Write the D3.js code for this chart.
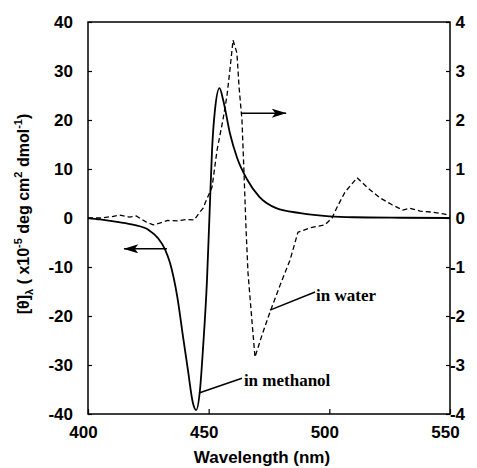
<!DOCTYPE html>
<html>
<head>
<meta charset="utf-8">
<script src="https://cdn.jsdelivr.net/npm/d3@7"></script>
<style>
  html, body { margin: 0; padding: 0; background: #fff; }
  svg { display: block; }
  .tick text { font-family: "Liberation Sans", Arial, sans-serif; font-weight: bold; font-size: 17px; fill: #000; }
  .note { font-family: "Liberation Serif", "Times New Roman", serif; font-weight: bold; font-size: 17px; fill: #000; }
</style>
</head>
<body>
<div id="chart"></div>
<script>
// methanol curve (left axis, x10^-5 deg cm2 dmol-1)
const methanolWl = [400, 405, 412, 419, 425, 429, 432, 434, 437, 439.4, 441.4, 443.5, 444.8, 446.4, 447.7, 449.3, 450.3, 451.4, 452.6, 454.5, 456, 458.8, 461.7, 466, 471, 478, 488, 500, 510, 530, 550];
const methanolVal = [0, -0.3, -0.8, -1.4, -2.4, -4.1, -6.5, -9.2, -16.1, -24.3, -31, -37.8, -39.2, -35.1, -26.3, -12.7, 0, 13.9, 22, 26.5, 24.1, 17.3, 12.4, 7.8, 4.3, 2.0, 1.0, 0.35, 0.15, 0.05, 0];

// water curve (right axis)
const waterWl = [400, 405, 410, 413, 417, 420, 424, 427, 430, 433, 437, 441, 444, 446, 447.7, 448.5, 451.4, 453.5, 455.9, 457.6, 458.8, 460.1, 461.7, 462.6, 463.8, 464.6, 465.5, 466.3, 468, 469.2, 472.1, 475.4, 479.6, 483.7, 487, 492, 498.2, 501.1, 503.2, 506.5, 511.5, 516, 521, 526, 530.5, 533.4, 537.6, 542.6, 547.9, 550];
const waterVal = [0, 0, 0.03, 0.06, 0.02, 0.04, -0.08, -0.14, -0.1, -0.05, -0.06, -0.03, -0.04, 0.1, 0.2, 0.3, 0.63, 1.39, 2.0, 2.5, 3.02, 3.63, 3.37, 2.67, 2.0, 0.98, -0.24, -1.12, -2.14, -2.84, -2.39, -1.92, -1.37, -0.86, -0.29, -0.2, -0.14, 0, 0.22, 0.53, 0.82, 0.61, 0.41, 0.27, 0.16, 0.2, 0.14, 0.12, 0.08, 0.04];

const xTicks = [400, 450, 500, 550];
const leftTicks = [-40, -30, -20, -10, 0, 10, 20, 30, 40];
const rightTicks = [-4, -3, -2, -1, 0, 1, 2, 3, 4];

const width = 477;
const height = 468;
const margin = { top: 22, right: 27, bottom: 54, left: 88 };
const innerW = width - margin.left - margin.right;
const innerH = height - margin.top - margin.bottom;

const svg = d3.select('#chart')
  .append('svg')
  .attr('width', width)
  .attr('height', height);

const g = svg.append('g').attr('transform', `translate(${margin.left},${margin.top})`);

const x = d3.scaleLinear().domain([400, 550]).range([0, innerW]);
const yL = d3.scaleLinear().domain([-40, 40]).range([innerH, 0]);
const yR = d3.scaleLinear().domain([-4, 4]).range([innerH, 0]);

// plain hyphen for negatives, like the original
const fmt = d => String(d);

// frame
g.append('rect')
  .attr('width', innerW)
  .attr('height', innerH)
  .attr('fill', 'none')
  .attr('stroke', '#000')
  .attr('stroke-width', 1.5);

// axes, ticks pointing inward
const xAxis = g.append('g')
  .attr('transform', `translate(0,${innerH})`)
  .call(d3.axisBottom(x).tickValues(xTicks).tickSize(-5).tickPadding(12).tickFormat(fmt));
xAxis.selectAll('text').attr('dx', -5);

const leftAxis = g.append('g')
  .call(d3.axisLeft(yL).tickValues(leftTicks).tickSize(-4).tickPadding(15).tickFormat(fmt));

const rightAxis = g.append('g')
  .attr('transform', `translate(${innerW},0)`)
  .call(d3.axisRight(yR).tickValues(rightTicks).tickSize(-4).tickPadding(15).tickFormat(fmt));
rightAxis.selectAll('text').attr('text-anchor', 'end');

[xAxis, leftAxis, rightAxis].forEach(a => {
  a.select('.domain').remove();
  a.selectAll('line').attr('stroke', '#000').attr('stroke-width', 1.2);
});

// curves
const lineL = d3.line()
  .x((d, i) => x(methanolWl[i]))
  .y(d => yL(d))
  .curve(d3.curveMonotoneX);

const lineR = d3.line()
  .x((d, i) => x(waterWl[i]))
  .y(d => yR(d));

g.append('path')
  .datum(waterVal)
  .attr('fill', 'none')
  .attr('stroke', '#000')
  .attr('stroke-width', 1.3)
  .attr('stroke-dasharray', '5,3')
  .attr('d', lineR);

g.append('path')
  .datum(methanolVal)
  .attr('fill', 'none')
  .attr('stroke', '#000')
  .attr('stroke-width', 1.8)
  .attr('d', lineL);

// arrows showing which axis belongs to which curve
const defs = svg.append('defs');
defs.append('marker')
  .attr('id', 'head')
  .attr('viewBox', '0 0 16 10')
  .attr('refX', 16)
  .attr('refY', 5)
  .attr('markerWidth', 15)
  .attr('markerHeight', 9)
  .attr('markerUnits', 'userSpaceOnUse')
  .attr('orient', 'auto')
  .append('path')
  .attr('d', 'M0,0 L16,5 L0,10 L4,5 Z')
  .attr('fill', '#000');

function arrow(x1, x2, v) {
  g.append('line')
    .attr('x1', x(x1)).attr('x2', x(x2))
    .attr('y1', yL(v)).attr('y2', yL(v))
    .attr('stroke', '#000')
    .attr('stroke-width', 1.5)
    .attr('marker-end', 'url(#head)');
}
arrow(432.7, 414.9, -6.3);
arrow(463.4, 482.1, 21.4);

// labels on the curves
function note(text, tx, ty, lx1, ly1, lx2, ly2) {
  g.append('line')
    .attr('x1', x(lx1)).attr('y1', yL(ly1))
    .attr('x2', x(lx2)).attr('y2', yL(ly2))
    .attr('stroke', '#000')
    .attr('stroke-width', 1.5);
  g.append('text')
    .attr('class', 'note')
    .attr('x', x(tx))
    .attr('y', yL(ty))
    .text(text);
}
note('in water', 494.5, -16.9, 475.4, -18.8, 494.1, -15.1);
note('in methanol', 464.6, -34.3, 446, -35.7, 463.8, -32.7);

// axis titles
svg.append('text')
  .attr('x', margin.left + innerW / 2 - 7)
  .attr('y', 463)
  .attr('text-anchor', 'middle')
  .attr('font-family', '"Liberation Sans", Arial, sans-serif')
  .attr('font-weight', 'bold')
  .attr('font-size', 17)
  .text('Wavelength (nm)');

const yTitle = svg.append('text')
  .attr('transform', 'translate(29,0) rotate(-90)')
  .attr('font-family', '"Liberation Sans", Arial, sans-serif')
  .attr('font-weight', 'bold')
  .attr('font-size', 16);
yTitle.append('tspan').text('[θ]');
yTitle.append('tspan').attr('font-size', 11).attr('dy', 4).text('λ');
yTitle.append('tspan').attr('dy', -4).text(' ( x10');
yTitle.append('tspan').attr('font-size', 11).attr('dy', -7).text('-5');
yTitle.append('tspan').attr('dy', 7).text(' deg cm');
yTitle.append('tspan').attr('font-size', 11).attr('dy', -7).text('2');
yTitle.append('tspan').attr('dy', 7).text(' dmol');
yTitle.append('tspan').attr('font-size', 11).attr('dy', -7).text('-1');
yTitle.append('tspan').attr('dy', 7).text(')');
// centre the title on the plot's vertical middle
const titleLen = yTitle.node().getComputedTextLength();
yTitle.attr('x', -(214 + titleLen / 2));
</script>
</body>
</html>
